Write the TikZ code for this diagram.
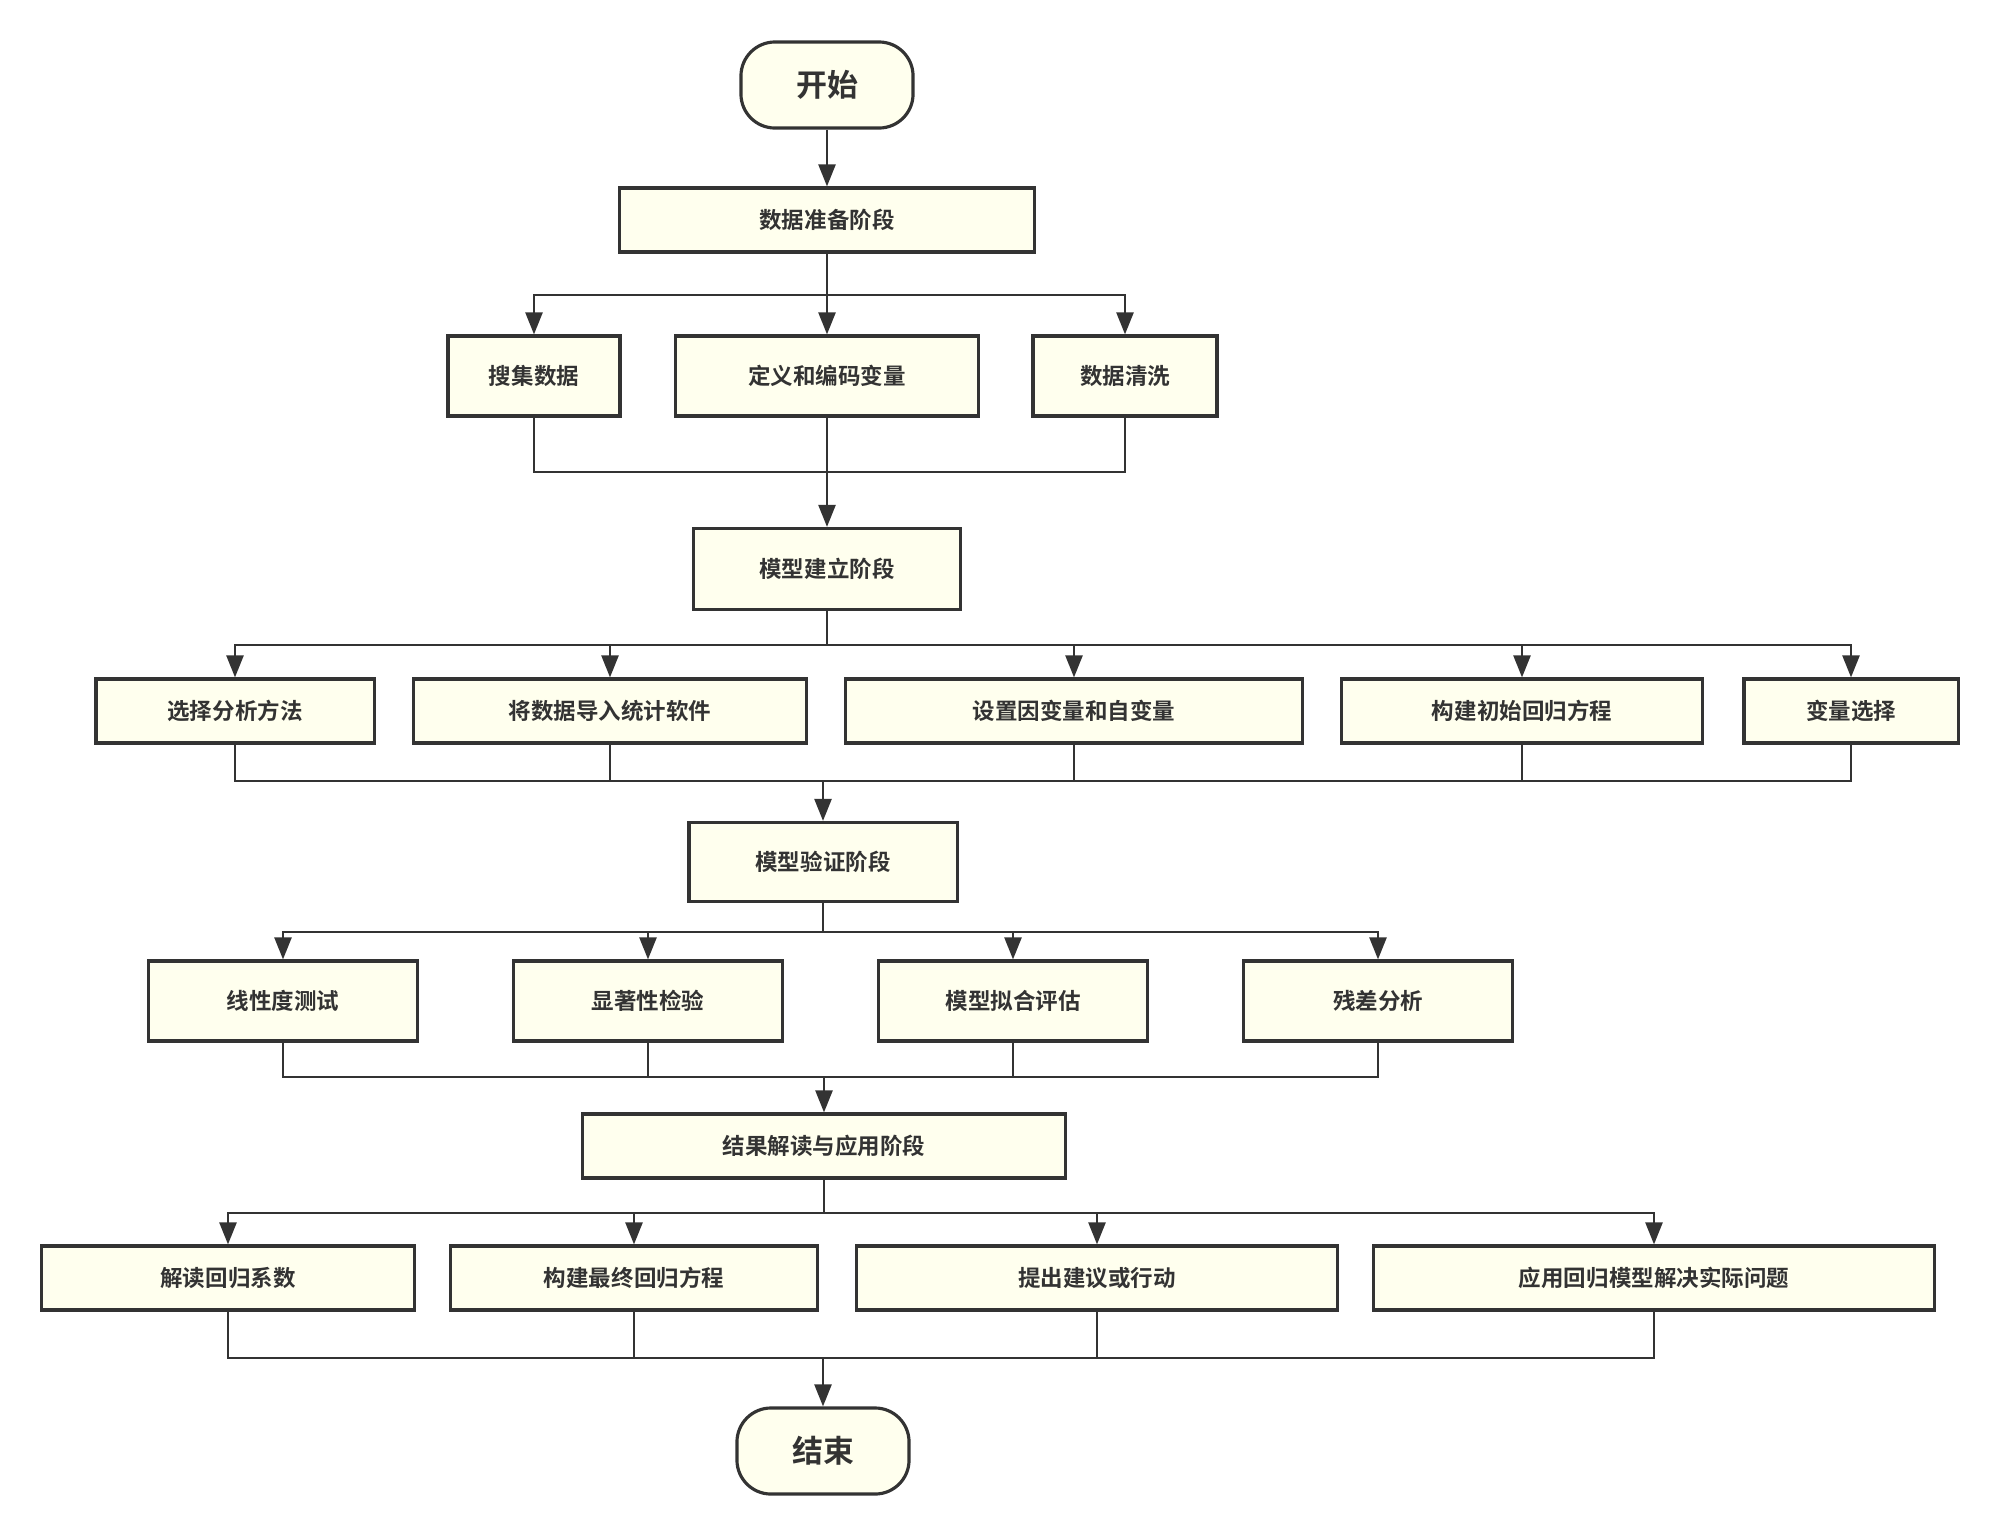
\documentclass[tikz,border=0pt]{standalone}
\usepackage{fontspec}
\setmainfont{Noto Sans CJK SC}[BoldFont={Noto Sans CJK SC Bold}]
\usepackage{xcolor}
\usepackage{tikz}
\usetikzlibrary{arrows.meta}
\definecolor{boxfill}{HTML}{FFFFEE}
\definecolor{ink}{HTML}{333333}
\begin{document}
\begin{tikzpicture}[x=0.01cm,y=-0.01cm,
	box/.style={draw=ink,fill=boxfill,line width=0.9pt,minimum height=0.64cm,inner sep=0pt,
		text=ink,font=\fontsize{6.4pt}{7pt}\selectfont\bfseries},
	term/.style={box,rounded corners=0.34cm,minimum width=1.72cm,minimum height=0.86cm,
		font=\fontsize{8.8pt}{10pt}\selectfont\bfseries},
	line/.style={draw=ink,line width=0.7pt},
	arr/.style={line,-{Triangle[length=0.22cm,width=0.17cm]}}]
	\useasboundingbox (0,0) rectangle (2000,1536);
	% Start and the four stages
	\node[term] (start) at (827,85) {开始};
	\node[box,minimum width=4.14cm] (prep) at (827,220) {数据准备阶段};
	\node[box,minimum width=2.67cm,minimum height=0.81cm] (build) at (827,569) {模型建立阶段};
	\node[box,minimum width=2.68cm,minimum height=0.79cm] (check) at (823,862) {模型验证阶段};
	\node[box,minimum width=4.82cm] (apply) at (824,1146) {结果解读与应用阶段};
	\node[term] (stop) at (823,1451) {结束};
	% Bus and collector heights
	\coordinate (bus1) at (0,295);  \coordinate (col1) at (0,472);
	\coordinate (bus2) at (0,645);  \coordinate (col2) at (0,781);
	\coordinate (bus3) at (0,932);  \coordinate (col3) at (0,1077);
	\coordinate (bus4) at (0,1213); \coordinate (col4) at (0,1358);
	% Row 1
	\foreach \n/\x/\w/\t in {a1/534/1.72/搜集数据,a2/827/3.03/定义和编码变量,a3/1125/1.84/数据清洗}
	\node[box,minimum width=\w cm,minimum height=0.80cm] (\n) at (\x,376) {\t};
	% Row 2
	\foreach \n/\x/\w/\t in {b1/235/2.78/选择分析方法,b2/610/3.93/将数据导入统计软件,b3/1074/4.56/设置因变量和自变量,
		b4/1522/3.61/构建初始回归方程,b5/1851/2.14/变量选择}
	\node[box,minimum width=\w cm] (\n) at (\x,711) {\t};
	% Row 3
	\foreach \n/\x/\t in {c1/283/线性度测试,c2/648/显著性检验,c3/1013/模型拟合评估,c4/1378/残差分析}
	\node[box,minimum width=2.69cm,minimum height=0.80cm] (\n) at (\x,1001) {\t};
	% Row 4
	\foreach \n/\x/\w/\t in {d1/228/3.72/解读回归系数,d2/634/3.67/构建最终回归方程,d3/1097/4.80/提出建议或行动,
		d4/1654/5.60/应用回归模型解决实际问题}
	\node[box,minimum width=\w cm] (\n) at (\x,1278) {\t};
	% Connectors
	\draw[arr] (start) -- (prep);
	\foreach \c in {a1,a2,a3} {
		\draw[arr] (prep.south) -- (prep.south |- bus1) -| (\c.north);
		\draw[line] (\c.south) |- (build.north |- col1);}
	\draw[arr] (build.north |- col1) -- (build.north);
	\foreach \c in {b1,b2,b3,b4,b5} {
		\draw[arr] (build.south) -- (build.south |- bus2) -| (\c.north);
		\draw[line] (\c.south) |- (check.north |- col2);}
	\draw[arr] (check.north |- col2) -- (check.north);
	\foreach \c in {c1,c2,c3,c4} {
		\draw[arr] (check.south) -- (check.south |- bus3) -| (\c.north);
		\draw[line] (\c.south) |- (apply.north |- col3);}
	\draw[arr] (apply.north |- col3) -- (apply.north);
	\foreach \c in {d1,d2,d3,d4} {
		\draw[arr] (apply.south) -- (apply.south |- bus4) -| (\c.north);
		\draw[line] (\c.south) |- (stop.north |- col4);}
	\draw[arr] (stop.north |- col4) -- (stop.north);
\end{tikzpicture}
\end{document}
